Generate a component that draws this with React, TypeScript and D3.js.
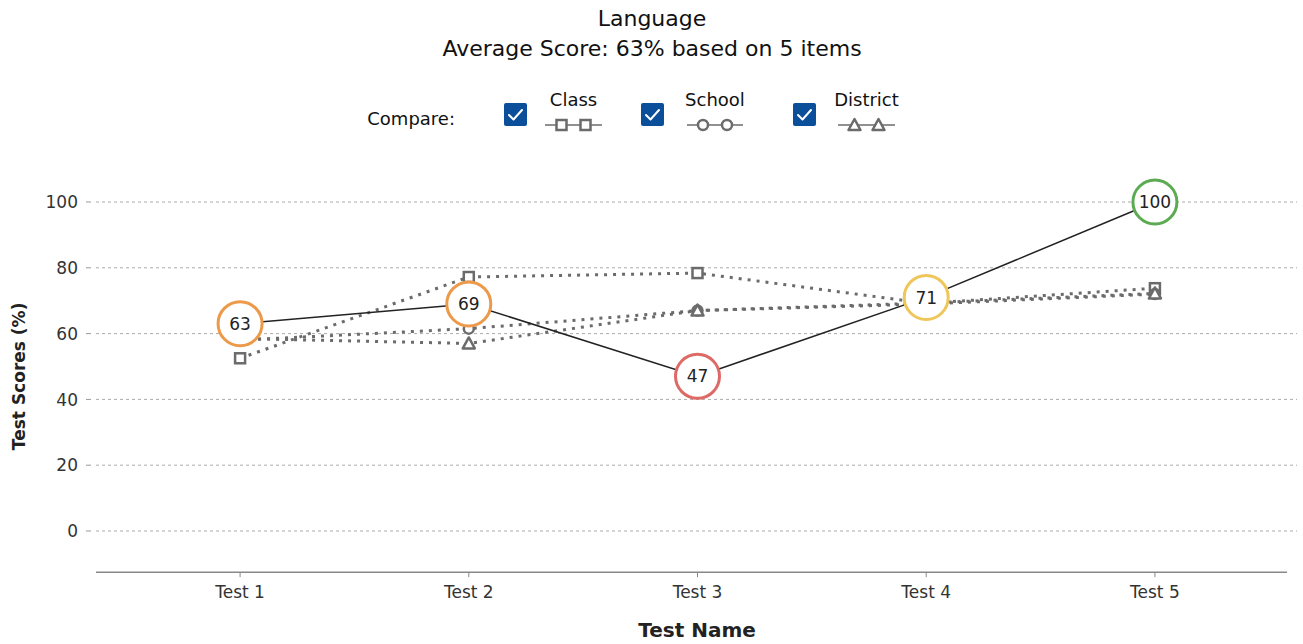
import React from 'react'
import * as d3 from 'd3'

const tests = ['Test 1', 'Test 2', 'Test 3', 'Test 4', 'Test 5']
const student = [63, 69, 47, 71, 100]
const classAvg = [52.5, 77.2, 78.4, 69.2, 73.8]
const schoolAvg = [58, 61.5, 67, 69, 72]
const districtAvg = [58.5, 57, 67, 69.3, 72.2]
const yTicks = [0, 20, 40, 60, 80, 100]
const scoreColors = ['#ec9a4a', '#ec9a4a', '#de6a66', '#efc65a', '#5cab52']

const W = 1303
const H = 644
const GRAY = '#6b6b6b'
const FONT = '"DejaVu Sans", sans-serif'

const x = d3.scalePoint<string>().domain(tests).range([96, 1299]).padding(0.63)
const y = d3.scaleLinear().domain([0, 100]).range([531, 202])

const line = d3.line<number>()
  .x((_, i) => x(tests[i]) as number)
  .y(d => y(d))

function Marker({ kind, cx, cy }: { kind: string; cx: number; cy: number }) {
  if (kind === 'square') {
    return <rect x={cx - 5} y={cy - 5} width={10} height={10} fill="#fff" stroke={GRAY} strokeWidth={2.5} />
  }
  if (kind === 'circle') {
    return <circle cx={cx} cy={cy} r={5} fill="#fff" stroke={GRAY} strokeWidth={2.5} />
  }
  return <path d={`M${cx},${cy - 6}L${cx + 6},${cy + 5}L${cx - 6},${cy + 5}Z`} fill="#fff" stroke={GRAY} strokeWidth={2.5} strokeLinejoin="round" />
}

function Check({ px, py }: { px: number; py: number }) {
  return (
    <g transform={`translate(${px},${py})`}>
      <rect width={23} height={23} rx={2} fill="#0b4f9a" />
      <path d="M5,12 L9.5,16.5 L18,7" fill="none" stroke="#fff" strokeWidth={2} strokeLinecap="round" strokeLinejoin="round" />
    </g>
  )
}

function LegendItem({ px, label, kind, lineX, lineW }: { px: number; label: string; kind: string; lineX: number; lineW: number }) {
  const mid = lineX + lineW / 2
  return (
    <g>
      <Check px={px} py={103} />
      <text x={mid} y={106} textAnchor="middle" fontSize={18} fill="#111">{label}</text>
      <line x1={lineX} x2={lineX + lineW} y1={125} y2={125} stroke={GRAY} strokeWidth={1.5} />
      <Marker kind={kind} cx={mid - 12} cy={125} />
      <Marker kind={kind} cx={mid + 12} cy={125} />
    </g>
  )
}

export default function App() {
  const series = [
    { vals: classAvg, kind: 'square' },
    { vals: schoolAvg, kind: 'circle' },
    { vals: districtAvg, kind: 'triangle' },
  ]
  const axisY = y(-12.5)
  return (
    <svg width={W} height={H} style={{ position: 'absolute', left: 0, top: 0, fontFamily: FONT }}>
      <text x={652} y={26} textAnchor="middle" fontSize={22} fill="#111">Language</text>
      <text x={652} y={56} textAnchor="middle" fontSize={22} fill="#111">Average Score: 63% based on 5 items</text>

      <text x={455} y={125} textAnchor="end" fontSize={18} fill="#111">Compare:</text>
      <LegendItem px={504} label="Class" kind="square" lineX={545} lineW={57} />
      <LegendItem px={641} label="School" kind="circle" lineX={687} lineW={56} />
      <LegendItem px={793} label="District" kind="triangle" lineX={838} lineW={57} />

      {yTicks.map(t => (
        <g key={t}>
          <line x1={86} x2={91} y1={y(t)} y2={y(t)} stroke="#999" strokeWidth={1} />
          <line x1={96} x2={1297} y1={y(t)} y2={y(t)} stroke="#aaa" strokeWidth={1} strokeDasharray="3,3" />
          <text x={78} y={y(t)} dy="0.36em" textAnchor="end" fontSize={17} fill="#333">{t}</text>
        </g>
      ))}

      <line x1={96} x2={1287} y1={axisY} y2={axisY} stroke="#888" strokeWidth={1.5} />
      {tests.map(t => (
        <g key={t}>
          <line x1={x(t)} x2={x(t)} y1={axisY} y2={axisY + 5} stroke="#888" strokeWidth={1} />
          <text x={x(t)} y={axisY + 26} textAnchor="middle" fontSize={17} fill="#333">{t}</text>
        </g>
      ))}

      <text transform={`translate(25,${y(47)}) rotate(-90)`} textAnchor="middle" fontSize={17} fontWeight="bold" fill="#222">Test Scores (%)</text>
      <text x={697} y={637} textAnchor="middle" fontSize={20} fontWeight="bold" fill="#222">Test Name</text>

      {series.map(s => (
        <g key={s.kind}>
          <path d={line(s.vals) as string} fill="none" stroke={GRAY} strokeWidth={3} strokeDasharray="3,6" />
          {s.vals.map((v, i) => (
            <Marker key={i} kind={s.kind} cx={x(tests[i]) as number} cy={y(v)} />
          ))}
        </g>
      ))}

      <path d={line(student) as string} fill="none" stroke="#222" strokeWidth={1.5} />
      {student.map((v, i) => (
        <g key={i}>
          <circle cx={x(tests[i])} cy={y(v)} r={22} fill="#fff" stroke={scoreColors[i]} strokeWidth={3} />
          <text x={x(tests[i])} y={y(v)} dy="0.36em" textAnchor="middle" fontSize={17} fill="#222">{v}</text>
        </g>
      ))}
    </svg>
  )
}
